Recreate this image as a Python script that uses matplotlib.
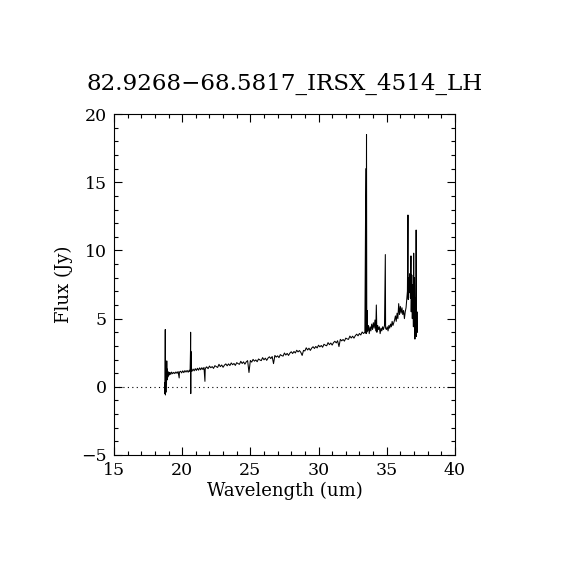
import matplotlib
matplotlib.use("Agg")
import matplotlib.pyplot as plt
from matplotlib.ticker import MultipleLocator

title = "82.9268\u221268.5817_IRSX_4514_LH"
x_label = "Wavelength (um)"
y_label = "Flux (Jy)"
x_ticks = [15, 20, 25, 30, 35, 40]
y_ticks = [-5, 0, 5, 10, 15, 20]

wavelength = [
    18.72, 18.74, 18.76, 18.77, 18.79, 18.81, 18.83, 18.85, 18.87, 18.89,
    18.91, 18.94, 18.97, 19.00, 19.04, 19.08, 19.12, 19.17, 19.22, 19.30,
    19.38, 19.46, 19.54, 19.62, 19.70, 19.78, 19.80, 19.88, 19.96, 20.04,
    20.12, 20.20, 20.28, 20.36, 20.44, 20.52, 20.58, 20.61, 20.62, 20.63,
    20.64, 20.66, 20.72, 20.80, 20.88, 20.96, 21.04, 21.12, 21.20, 21.28,
    21.36, 21.44, 21.52, 21.60, 21.67, 21.69, 21.76,
    21.8, 21.9, 22.0, 22.1, 22.2, 22.3, 22.4, 22.5, 22.6, 22.7,
    22.8, 22.9, 23.0, 23.1, 23.2, 23.3, 23.4, 23.5, 23.6, 23.7,
    23.8, 23.9, 24.0, 24.1, 24.2, 24.3, 24.4, 24.5, 24.6, 24.7,
    24.8, 24.9, 25.0, 25.1, 25.2, 25.3, 25.4, 25.5, 25.6, 25.7,
    25.8, 25.9, 26.0, 26.1, 26.2, 26.3, 26.4, 26.5, 26.6, 26.7,
    26.8, 26.9, 27.0, 27.1, 27.2, 27.3, 27.4, 27.5, 27.6, 27.7,
    27.8, 27.9, 28.0, 28.1, 28.2, 28.3, 28.4, 28.5, 28.6, 28.7,
    28.8, 28.9, 29.0, 29.1, 29.2, 29.3, 29.4, 29.5, 29.6, 29.7,
    29.8, 29.9, 30.0, 30.1, 30.2, 30.3, 30.4, 30.5, 30.6, 30.7,
    30.8, 30.9, 31.0, 31.1, 31.2, 31.3, 31.4, 31.5, 31.6, 31.7,
    31.8, 31.9, 32.0, 32.1, 32.2, 32.3, 32.4, 32.5, 32.6, 32.7,
    32.8, 32.9, 33.0, 33.1, 33.2, 33.3, 33.4,
    33.47, 33.49, 33.52, 33.54, 33.57, 33.60, 33.66,
    33.72, 33.78, 33.84, 33.90, 33.96, 34.02, 34.08, 34.14, 34.20, 34.24,
    34.28, 34.34, 34.40, 34.46, 34.52, 34.58, 34.64, 34.70, 34.76, 34.84,
    34.88, 34.90, 34.92, 34.98, 35.04, 35.10, 35.16, 35.22, 35.28, 35.34,
    35.40, 35.46, 35.52, 35.58, 35.64, 35.70, 35.76, 35.82, 35.88, 35.94,
    36.00, 36.06, 36.12, 36.18, 36.24, 36.30, 36.36, 36.42, 36.48, 36.52,
    36.56, 36.58, 36.62, 36.66, 36.70, 36.74, 36.78, 36.80, 36.84, 36.88,
    36.92, 36.96, 36.98, 37.00, 37.04, 37.07, 37.10, 37.14, 37.16, 37.18,
    37.22, 37.26,
]

flux = [
    0.3, -0.5, 4.2, -0.6, 0.8, -0.4, 1.2, 0.2, 1.9, 0.5,
    1.3, 0.7, 1.1, 0.8, 1.06, 0.88, 1.04, 0.92, 1.08, 0.96,
    1.06, 0.97, 1.09, 0.99, 1.12, 0.65, 1.08, 1.14, 1.02, 1.17,
    1.04, 1.19, 1.08, 1.2, 1.07, 1.22, 1.12, 2.6, 4.0, -0.5,
    2.6, 1.24, 1.14, 1.3, 1.17, 1.33, 1.2, 1.36, 1.22, 1.39,
    1.25, 1.4, 1.27, 1.42, 0.4, 1.3, 1.44,
    1.46, 1.33, 1.52, 1.40, 1.48, 1.35, 1.55, 1.48, 1.42, 1.65,
    1.48, 1.60, 1.43, 1.59, 1.68, 1.54, 1.68, 1.56, 1.75, 1.62,
    1.71, 1.57, 1.77, 1.70, 1.65, 1.87, 1.71, 1.83, 1.66, 1.83,
    1.92, 1.05, 1.93, 1.81, 2.01, 1.88, 1.97, 1.84, 2.04, 1.97,
    1.92, 2.14, 1.98, 2.10, 1.94, 2.11, 2.20, 2.07, 2.22, 1.70,
    2.30, 2.18, 2.27, 2.14, 2.36, 2.29, 2.25, 2.48, 2.33, 2.45,
    2.30, 2.47, 2.57, 2.44, 2.59, 2.48, 2.68, 2.56, 2.66, 2.53,
    2.30, 2.67, 2.63, 2.86, 2.70, 2.83, 2.67, 2.84, 2.94, 2.81,
    2.96, 2.85, 3.05, 2.93, 3.03, 2.90, 3.12, 3.05, 3.01, 3.24,
    3.09, 3.21, 3.06, 3.24, 3.34, 3.22, 3.38, 2.95, 3.48, 3.37,
    3.47, 3.35, 3.57, 3.51, 3.48, 3.72, 3.58, 3.71, 3.57, 3.75,
    3.86, 3.74, 3.91, 3.80, 4.02, 3.91, 4.00,
    16.0, 3.9, 18.5, 4.0, 5.6, 4.1, 4.5,
    3.9, 4.4, 4.1, 4.6, 4.2, 4.7, 4.3, 4.9, 4.1, 6.0,
    4.0, 4.5, 4.2, 4.4, 3.9, 4.3, 4.1, 4.4, 4.2, 4.5,
    7.8, 9.7, 4.3, 4.2, 4.4, 4.1, 4.5, 4.3, 4.6, 4.4,
    4.8, 4.5, 4.7, 4.9, 5.2, 4.8, 5.4, 5.0, 6.1, 5.3,
    5.9, 5.4, 5.8, 5.3, 5.6, 5.0, 5.5, 5.8, 6.5, 7.0,
    12.6, 6.4, 8.0, 6.9, 8.3, 6.5, 9.6, 5.5, 8.2, 5.0,
    7.5, 4.4, 9.8, 4.5, 8.0, 3.5, 6.5, 4.5, 11.5, 3.7,
    5.5, 4.0,
]

serif = ["DejaVu Serif"]

fig = plt.figure(figsize=(5.7, 5.7), dpi=100)
ax = fig.add_axes([0.2, 0.2018, 0.598, 0.598])

ax.plot(wavelength, flux, color="black", linewidth=0.75)
ax.axhline(0, color="black", linewidth=0.8, linestyle=(0, (1, 3)))

ax.set_xlim(15, 40)
ax.set_ylim(-5, 20)
ax.set_xticks(x_ticks)
ax.set_yticks(y_ticks)
ax.xaxis.set_minor_locator(MultipleLocator(1))
ax.yaxis.set_minor_locator(MultipleLocator(1))
ax.tick_params(which="both", direction="in", top=True, right=True, width=0.8,
               labelsize=12.5, pad=5)
ax.tick_params(which="major", length=6)
ax.tick_params(which="minor", length=3)
for lab in ax.get_xticklabels() + ax.get_yticklabels():
    lab.set_family(serif)
for s in ax.spines.values():
    s.set_linewidth(0.8)

ax.set_xlabel(x_label, family=serif, fontsize=13, labelpad=2)
ax.set_ylabel(y_label, family=serif, fontsize=13, labelpad=6)
fig.text(0.5, 0.852, title, family=serif, fontsize=16.6, ha="center", va="center")

fig.savefig("out.png", dpi=100)
